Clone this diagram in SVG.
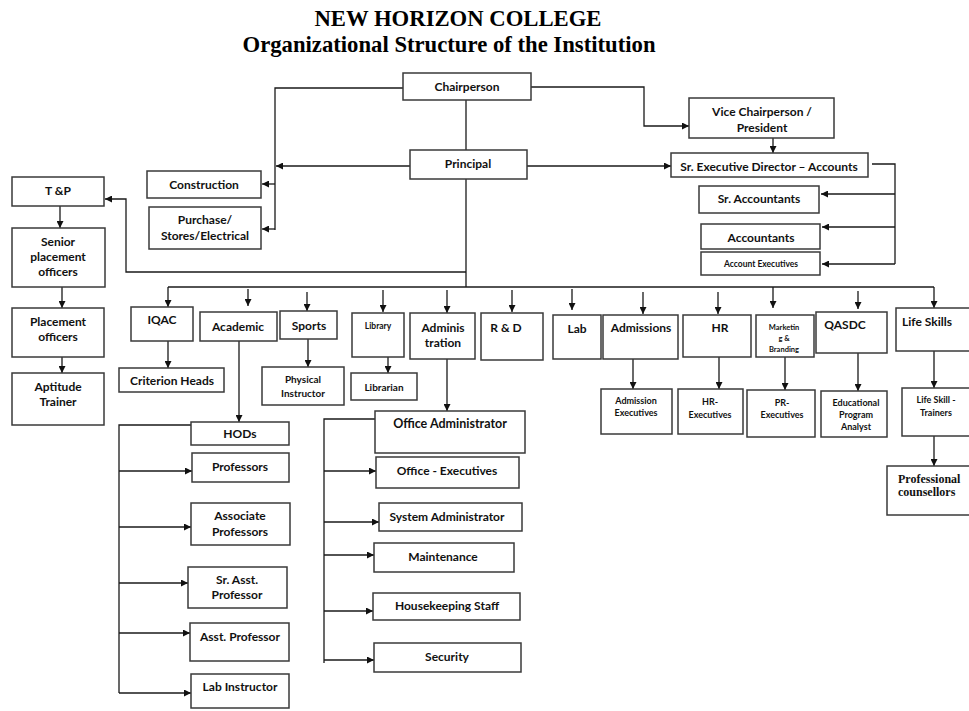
<svg xmlns="http://www.w3.org/2000/svg" width="969" height="711" viewBox="0 0 969 711">
<style>
.b{fill:#fff;stroke:#3a3a3a;stroke-width:1.5}
.t{font-family:Lato,"Liberation Sans",sans-serif;font-weight:bold;font-size:12px;fill:#111;text-anchor:middle}
.s{font-size:9px}
.m{font-size:10px}
.tt{font-family:"Liberation Serif","Times New Roman",serif;font-weight:bold;font-size:22.7px;fill:#000;text-anchor:middle}
.c{fill:none;stroke:#1a1a1a;stroke-width:1.3}
.a{marker-end:url(#ah)}
</style>
<defs>
<marker id="ah" viewBox="0 0 10 10" refX="10" refY="5" markerWidth="8" markerHeight="7" orient="auto" markerUnits="userSpaceOnUse">
<path d="M0,0 L10,5 L0,10 z" fill="#111"/>
</marker>
</defs>
<rect width="969" height="711" fill="#fff"/>
<text class="tt" x="458" y="26">NEW HORIZON COLLEGE</text>
<text class="tt" x="449" y="52">Organizational Structure of the Institution</text>

<g id="connectors">
<path class="c" d="M403,88 H275 V230"/>
<path class="c a" d="M275,184 H262"/>
<path class="c a" d="M275,229 H262"/>
<path class="c a" d="M410,166 H276"/>
<path class="c" d="M466,100 V150"/>
<path class="c a" d="M531,87 H644 V126 H689"/>
<path class="c a" d="M773,138 V153"/>
<path class="c a" d="M527,166 H671"/>
<path class="c" d="M872,164 H895 V264"/>
<path class="c a" d="M895,194 H821"/>
<path class="c a" d="M895,227 H822"/>
<path class="c a" d="M895,264 H822"/>
<path class="c" d="M466,179 V287"/>
<path class="c" d="M168,287 H934"/>
<path class="c a" d="M168,287 V307"/>
<path class="c a" d="M934,287 V308"/>
<path class="c a" d="M466,272 H126 V199 H105"/>
<path class="c a" d="M60,206 V228"/>
<path class="c a" d="M62,287 V308"/>
<path class="c a" d="M62,357 V373"/>
<path class="c a" d="M248,289 V306"/>
<path class="c a" d="M307,292 V311"/>
<path class="c a" d="M383,290 V312"/>
<path class="c a" d="M447,290 V313"/>
<path class="c a" d="M512,290 V312"/>
<path class="c a" d="M572,289 V310"/>
<path class="c a" d="M643,292 V314"/>
<path class="c a" d="M718,292 V314"/>
<path class="c a" d="M773,287 V308"/>
<path class="c a" d="M858,291 V309"/>
<path class="c a" d="M168,341 V368"/>
<path class="c a" d="M308,339 V367"/>
<path class="c a" d="M388,357 V373"/>
<path class="c a" d="M447,359 V411"/>
<path class="c a" d="M633,359 V389"/>
<path class="c a" d="M719,357 V389"/>
<path class="c a" d="M785,357 V390"/>
<path class="c a" d="M858,353 V391"/>
<path class="c a" d="M934,351 V388"/>
<path class="c a" d="M934,436 V466"/>
<path class="c a" d="M239,341 V422"/>
<path class="c" d="M191,425 H119 V693"/>
<path class="c a" d="M119,471 H192"/>
<path class="c a" d="M119,527 H191"/>
<path class="c a" d="M119,583 H188"/>
<path class="c a" d="M119,633 H190"/>
<path class="c a" d="M119,693 H191"/>
<path class="c" d="M375,419 H324 V663"/>
<path class="c a" d="M324,471 H376"/>
<path class="c a" d="M324,522 H379"/>
<path class="c a" d="M324,555 H374"/>
<path class="c a" d="M324,611 H373"/>
<path class="c a" d="M324,660 H374"/>
</g>

<g id="chairperson"><rect class="b" x="403" y="73" width="128" height="27"/><text class="t" x="467" y="91">Chairperson</text></g>
<g id="principal"><rect class="b" x="410" y="150" width="117" height="29"/><text class="t" x="468" y="168">Principal</text></g>
<g id="vice-chairperson"><rect class="b" x="689" y="98" width="145" height="40"/><text class="t" x="762" y="116">Vice Chairperson /</text><text class="t" x="762" y="132">President</text></g>
<g id="sr-exec-director"><rect class="b" x="671" y="153" width="197" height="24"/><text class="t" x="769" y="171">Sr. Executive Director – Accounts</text></g>
<g id="sr-accountants"><rect class="b" x="699" y="186" width="120" height="27"/><text class="t" x="759" y="203">Sr. Accountants</text></g>
<g id="accountants"><rect class="b" x="701" y="224" width="119" height="25"/><text class="t" x="761" y="242">Accountants</text></g>
<g id="account-executives"><rect class="b" x="701" y="252" width="119" height="23"/><text class="t" x="761" y="267" style="font-size:8.5px">Account Executives</text></g>
<g id="construction"><rect class="b" x="147" y="171" width="114" height="27"/><text class="t" x="204" y="189">Construction</text></g>
<g id="purchase"><rect class="b" x="149" y="207" width="112" height="42"/><text class="t" x="205" y="224">Purchase/</text><text class="t" x="205" y="240">Stores/Electrical</text></g>
<g id="tp"><rect class="b" x="12" y="177" width="92" height="29"/><text class="t" x="58" y="195">T &amp;P</text></g>
<g id="senior-placement"><rect class="b" x="12" y="228" width="93" height="59"/><text class="t" x="58" y="246">Senior</text><text class="t" x="58" y="261">placement</text><text class="t" x="58" y="276">officers</text></g>
<g id="placement-officers"><rect class="b" x="12" y="308" width="92" height="49"/><text class="t" x="58" y="326">Placement</text><text class="t" x="58" y="341">officers</text></g>
<g id="aptitude-trainer"><rect class="b" x="12" y="373" width="92" height="52"/><text class="t" x="58" y="391">Aptitude</text><text class="t" x="58" y="406">Trainer</text></g>
<g id="iqac"><rect class="b" x="131" y="307" width="62" height="34"/><text class="t" x="162" y="324">IQAC</text></g>
<g id="academic"><rect class="b" x="200" y="312" width="77" height="29"/><text class="t" x="238" y="331">Academic</text></g>
<g id="sports"><rect class="b" x="280" y="311" width="57" height="28"/><text class="t" x="309" y="330">Sports</text></g>
<g id="criterion-heads"><rect class="b" x="119" y="368" width="105" height="24"/><text class="t" x="172" y="385">Criterion Heads</text></g>
<g id="physical-instructor"><rect class="b" x="262" y="367" width="82" height="38"/><text class="t m" x="303" y="383">Physical</text><text class="t m" x="303" y="397">Instructor</text></g>
<g id="library"><rect class="b" x="352" y="313" width="52" height="44"/><text class="t" x="378" y="329" style="font-size:8.5px">Library</text></g>
<g id="librarian"><rect class="b" x="351" y="373" width="66" height="27"/><text class="t m" x="384" y="391">Librarian</text></g>
<g id="administration"><rect class="b" x="410" y="313" width="65" height="46"/><text class="t" x="443" y="332">Adminis</text><text class="t" x="443" y="347">tration</text></g>
<g id="rnd"><rect class="b" x="481" y="313" width="62" height="47"/><text class="t" x="506" y="332">R &amp; D</text></g>
<g id="lab"><rect class="b" x="553" y="315" width="48" height="44"/><text class="t" x="577" y="333">Lab</text></g>
<g id="admissions"><rect class="b" x="603" y="315" width="75" height="44"/><text class="t" x="641" y="332">Admissions</text></g>
<g id="admission-executives"><rect class="b" x="601" y="389" width="71" height="45"/><text class="t s" x="636" y="404">Admission</text><text class="t s" x="636" y="416">Executives</text></g>
<g id="hr"><rect class="b" x="683" y="315" width="68" height="42"/><text class="t" x="720" y="332">HR</text></g>
<g id="hr-executives"><rect class="b" x="678" y="389" width="65" height="45"/><text class="t s" x="710" y="405">HR-</text><text class="t s" x="710" y="418">Executives</text></g>
<g id="marketing"><rect class="b" x="756" y="315" width="58" height="42"/><text class="t" x="784" y="330" style="font-size:7.5px">Marketin</text><text class="t" x="784" y="341" style="font-size:7.5px">g &amp;</text><text class="t" x="784" y="352" style="font-size:7.5px">Branding</text></g>
<g id="pr-executives"><rect class="b" x="747" y="390" width="68" height="47"/><text class="t s" x="782" y="406">PR-</text><text class="t s" x="782" y="418">Executives</text></g>
<g id="qasdc"><rect class="b" x="816" y="312" width="71" height="41"/><text class="t" x="845" y="329">QASDC</text></g>
<g id="edu-analyst"><rect class="b" x="821" y="391" width="66" height="46"/><text class="t s" x="856" y="406">Educational</text><text class="t s" x="856" y="418">Program</text><text class="t s" x="856" y="430">Analyst</text></g>
<g id="life-skills"><rect class="b" x="896" y="308" width="80" height="43"/><text class="t" x="927" y="326">Life Skills</text></g>
<g id="life-skill-trainers"><rect class="b" x="902" y="388" width="75" height="48"/><text class="t s" x="936" y="403">Life Skill -</text><text class="t s" x="936" y="416">Trainers</text></g>
<g id="professional-counsellors"><rect class="b" x="887" y="466" width="90" height="49"/><text x="898" y="483" style="font-family:'Liberation Serif',serif;font-weight:bold;font-size:12px;fill:#111">Professional</text><text x="898" y="496" style="font-family:'Liberation Serif',serif;font-weight:bold;font-size:12px;fill:#111">counsellors</text></g>
<g id="hods"><rect class="b" x="191" y="422" width="98" height="23"/><text class="t" x="240" y="438">HODs</text></g>
<g id="professors"><rect class="b" x="192" y="453" width="97" height="29"/><text class="t" x="240" y="471">Professors</text></g>
<g id="associate-professors"><rect class="b" x="191" y="503" width="99" height="42"/><text class="t" x="240" y="520">Associate</text><text class="t" x="240" y="536">Professors</text></g>
<g id="sr-asst-professor"><rect class="b" x="188" y="567" width="99" height="41"/><text class="t" x="237" y="584">Sr. Asst.</text><text class="t" x="237" y="599">Professor</text></g>
<g id="asst-professor"><rect class="b" x="190" y="623" width="99" height="38"/><text class="t" x="240" y="641">Asst. Professor</text></g>
<g id="lab-instructor"><rect class="b" x="191" y="674" width="98" height="34"/><text class="t" x="240" y="691">Lab Instructor</text></g>
<g id="office-administrator"><rect class="b" x="375" y="411" width="150" height="42"/><text class="t" x="450" y="428" style="font-size:12.5px">Office Administrator</text></g>
<g id="office-executives"><rect class="b" x="376" y="457" width="143" height="31"/><text class="t" x="447" y="475">Office - Executives</text></g>
<g id="system-administrator"><rect class="b" x="379" y="503" width="143" height="28"/><text class="t" x="447" y="521">System Administrator</text></g>
<g id="maintenance"><rect class="b" x="374" y="543" width="140" height="29"/><text class="t" x="443" y="561">Maintenance</text></g>
<g id="housekeeping"><rect class="b" x="373" y="593" width="147" height="27"/><text class="t" x="447" y="610">Housekeeping Staff</text></g>
<g id="security"><rect class="b" x="374" y="643" width="147" height="29"/><text class="t" x="447" y="661">Security</text></g>
</svg>
